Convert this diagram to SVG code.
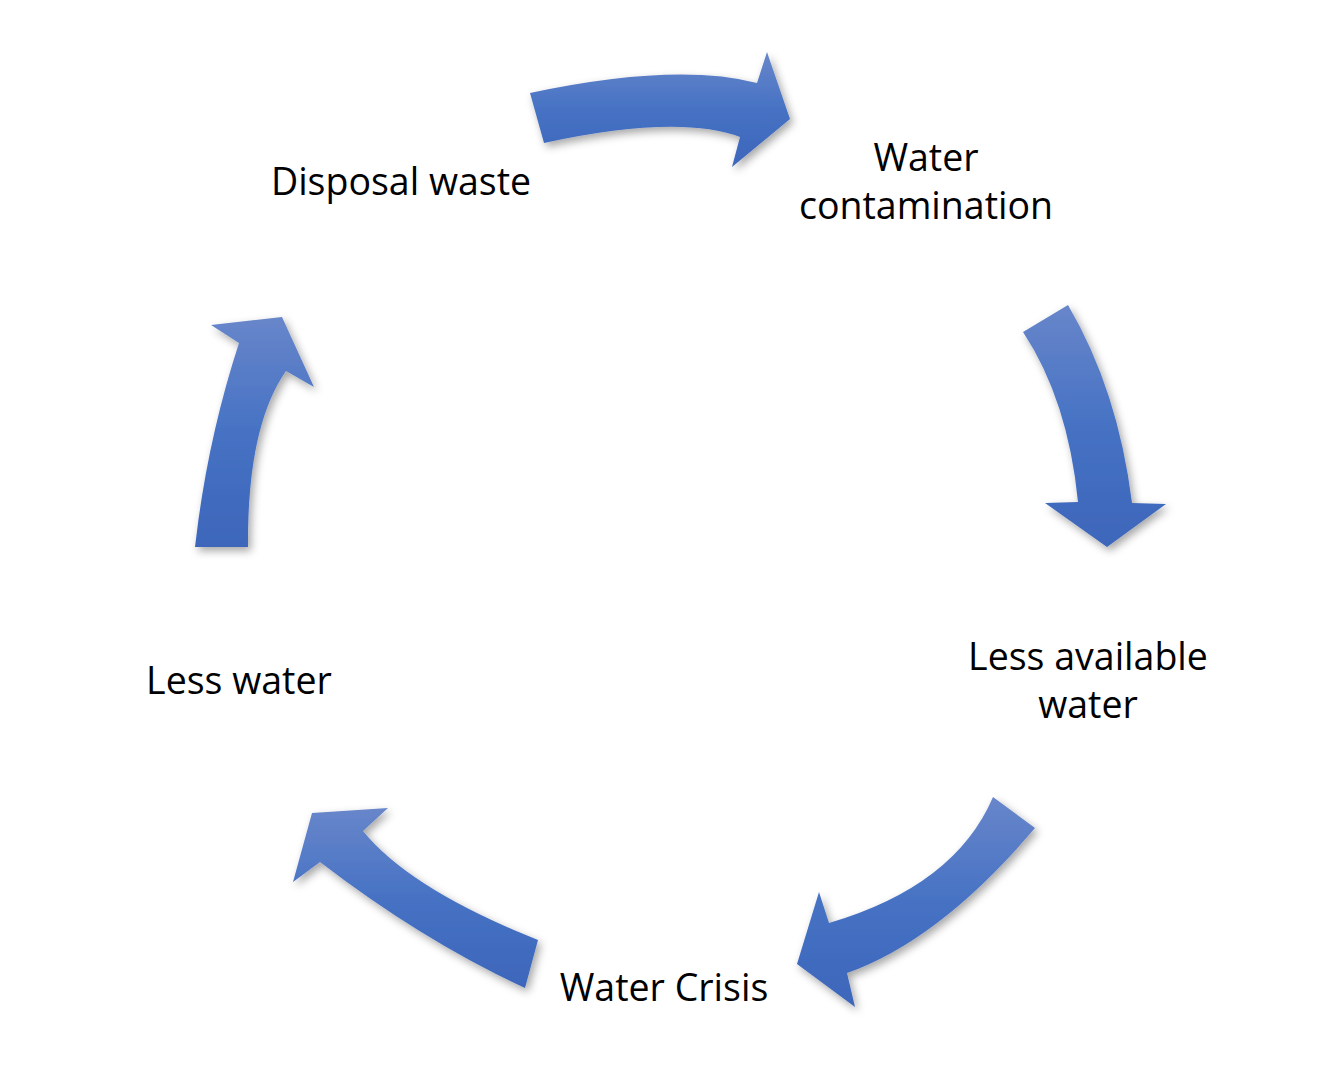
<svg xmlns="http://www.w3.org/2000/svg" width="1330" height="1086" viewBox="0 0 1330 1086">
<defs>
<linearGradient id="g" x1="0" y1="0" x2="0" y2="1">
<stop offset="0" stop-color="#6886CA"/>
<stop offset="0.5" stop-color="#4672C4"/>
<stop offset="1" stop-color="#3D66BA"/>
</linearGradient>
<filter id="sh" x="-20%" y="-20%" width="140%" height="140%">
<feDropShadow dx="3" dy="4" stdDeviation="4" flood-color="#000" flood-opacity="0.35"/>
</filter>
<style>
.arr{fill:url(#g);filter:url(#sh);}
.lbl{font-family:"Open Sans","Noto Sans","Liberation Sans",sans-serif;font-size:37.5px;fill:#000;text-anchor:middle;}
</style>
</defs>
<rect width="1330" height="1086" fill="#fff"/>
<g id="connectors">
<path class="arr" d="M530,93 Q676,62 757,83 L767,52 L790,119 L732,167 L740,137 Q678,114 544,143 Z"/>
<path class="arr" d="M1023,332 L1068,305 Q1118,390 1132,503 L1166,504 L1107,547 L1045,503 L1078,502 Q1068,400 1023,332 Z"/>
<path class="arr" d="M993,797 L1035,828 Q940,940 847,973 L855,1007 L797,964 L819,892 L829,923 Q955,886 993,797 Z"/>
<path class="arr" d="M538,940 L525,988 Q423,941 320,862 L293,882 L312,813 L388,808 L363,831 Q410,889 538,940 Z"/>
<path class="arr" d="M195,547 L248,547 Q247,427 286,371 L314,387 L282,317 L211,325 L239,343 Q207,441 195,547 Z"/>
</g>
<g id="node-disposal"><text class="lbl" x="401" y="195">Disposal waste</text></g>
<g id="node-contamination"><text class="lbl" x="926" y="171">Water</text><text class="lbl" x="926" y="219">contamination</text></g>
<g id="node-less-available"><text class="lbl" x="1088" y="670">Less available</text><text class="lbl" x="1088" y="718">water</text></g>
<g id="node-crisis"><text class="lbl" x="664" y="1001">Water Crisis</text></g>
<g id="node-less-water"><text class="lbl" x="239" y="694">Less water</text></g>
</svg>
